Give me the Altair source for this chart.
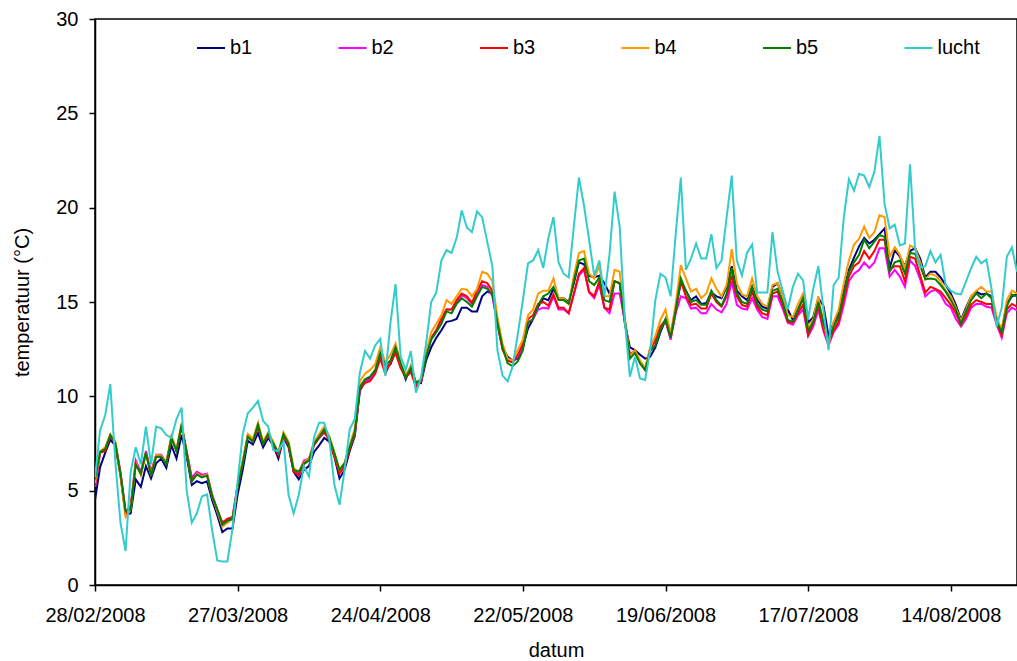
import altair as alt
import pandas as pd

# Daily mean temperatures (°C), starting 28/02/2008
b1 = [4.5, 6.25, 7.0, 7.7, 7.4, 5.8, 3.75, 3.8, 5.6, 5.2,
      6.3, 5.65, 6.45, 6.7, 6.2, 7.4, 6.7, 7.95, 6.8, 5.3,
      5.5, 5.4, 5.5, 4.5, 3.7, 2.8, 3.0, 3.0, 4.8, 6.1,
      7.65, 7.45, 8.05, 7.3, 7.8, 7.4, 6.7, 7.8, 7.3, 6.0,
      5.6, 6.1, 6.3, 7.05, 7.4, 7.8, 7.6, 6.8, 5.65, 6.1,
      7.1, 7.9, 10.3, 10.8, 11.0, 11.3, 12.1, 11.5, 11.7, 12.4,
      11.7, 10.9, 11.6, 10.75, 10.7, 11.9, 12.6, 13.1, 13.5, 13.95,
      14.0, 14.1, 14.7, 14.7, 14.5, 14.5, 15.3, 15.55, 15.45, 14.0,
      12.6, 12.1, 11.9, 12.0, 12.6, 13.6, 14.1, 14.75, 15.2, 15.1,
      15.7, 15.2, 15.2, 15.0, 16.0, 17.1, 17.0, 16.4, 16.3, 16.4,
      16.0, 15.45, 16.1, 16.0, 13.9, 12.6, 12.45, 12.2, 12.0, 12.1,
      12.6, 13.4, 14.05, 13.2, 14.7, 16.0, 15.6, 15.1, 15.3, 14.9,
      14.95, 15.5, 15.3, 15.2, 15.8, 16.9, 15.6, 15.3, 15.1, 15.8,
      15.1, 14.75, 14.65, 15.8, 16.0, 15.3, 14.6, 14.05, 14.6, 15.2,
      13.9, 14.2, 15.2, 14.8, 13.2, 13.9, 14.4, 15.6, 16.7, 17.35,
      17.95, 18.4, 18.1, 18.3, 18.6, 18.9, 16.8, 17.75, 17.4, 16.9,
      17.7, 17.85, 17.3, 16.3, 16.6, 16.6, 16.3, 15.9, 15.45, 14.85,
      14.05, 14.7, 15.3, 15.55, 15.4, 15.45, 15.3, 14.05, 13.5, 14.9,
      15.3, 15.4]

b2 = [5.2, 7.0, 7.2, 7.9, 7.5, 6.0, 3.9, 4.2, 6.6, 6.0,
      7.1, 6.0, 6.9, 6.9, 6.5, 7.8, 7.2, 8.4, 7.1, 5.7,
      6.0, 5.85, 5.9, 4.8, 4.0, 3.3, 3.5, 3.6, 5.3, 6.5,
      7.9, 7.6, 8.4, 7.5, 7.9, 7.5, 6.9, 7.9, 7.4, 6.1,
      5.9, 6.6, 6.7, 7.5, 7.8, 8.1, 7.7, 6.9, 6.0, 6.4,
      7.3, 8.0, 10.5, 10.8, 10.9, 11.3, 12.1, 11.3, 11.8, 12.4,
      11.6, 11.0, 11.4, 10.6, 10.8, 12.2, 13.1, 13.5, 14.1, 14.6,
      14.6, 15.0, 15.35, 15.2, 14.9, 15.4, 15.9, 15.8, 15.3, 13.8,
      12.5, 11.9, 11.8, 12.1, 12.6, 13.9, 14.1, 14.6, 14.7, 14.65,
      15.3, 14.6, 14.6, 14.4, 15.4, 16.4, 16.7, 15.5, 15.2, 15.9,
      14.7, 14.4, 15.45, 15.45, 14.0, 12.2, 12.4, 11.8, 11.4, 12.5,
      12.9, 13.6, 14.0, 13.0, 14.4, 15.3, 15.2, 14.65, 14.7, 14.4,
      14.4, 14.9, 14.6, 14.45, 14.9, 16.1, 14.85, 14.65, 14.6, 15.2,
      14.6, 14.2, 14.1, 15.3, 15.3, 14.65, 13.9, 13.8, 14.3, 14.6,
      13.2, 13.7, 14.6, 13.45, 12.7, 13.4, 13.8, 14.85, 16.1, 16.5,
      16.7, 17.1, 16.8, 17.1, 17.85, 17.85, 16.35, 16.7, 16.35, 15.8,
      17.2, 16.9, 16.2, 15.3, 15.55, 15.65, 15.4, 14.9, 14.7, 14.1,
      13.7, 14.1, 14.7, 14.9, 14.9, 14.75, 14.7, 13.8, 13.1, 14.4,
      14.7, 14.55]

b3 = [5.3, 7.0, 7.1, 7.9, 7.5, 5.9, 3.8, 4.1, 6.4, 5.9,
      7.0, 5.9, 6.8, 6.8, 6.4, 7.8, 7.1, 8.4, 7.0, 5.6,
      5.9, 5.75, 5.8, 4.7, 4.0, 3.3, 3.5, 3.6, 5.2, 6.5,
      7.9, 7.6, 8.4, 7.5, 7.9, 7.5, 6.9, 7.9, 7.4, 6.0,
      5.8, 6.4, 6.6, 7.4, 7.8, 8.1, 7.7, 6.8, 5.9, 6.3,
      7.2, 8.0, 10.4, 10.7, 10.8, 11.2, 12.0, 11.2, 11.8, 12.3,
      11.5, 11.0, 11.3, 10.5, 10.8, 12.2, 13.1, 13.5, 14.1, 14.6,
      14.6, 15.1, 15.45, 15.3, 14.95, 15.6, 16.1, 16.0, 15.6, 13.9,
      12.5, 11.9, 11.8, 12.2, 12.8, 14.1, 14.3, 14.9, 15.0, 14.8,
      15.4, 14.7, 14.7, 14.4, 15.45, 16.5, 16.8, 15.55, 15.3, 16.1,
      14.7, 14.6, 16.1, 16.0, 14.05, 12.2, 12.4, 11.75, 11.4, 12.55,
      13.0, 13.7, 14.05, 13.1, 14.5, 16.1, 15.3, 14.85, 14.9, 14.65,
      14.65, 15.45, 15.0, 14.75, 15.3, 16.4, 15.3, 14.85, 14.75, 15.55,
      14.75, 14.4, 14.3, 15.45, 15.55, 14.85, 13.95, 13.9, 14.4, 14.85,
      13.25, 13.9, 14.8, 13.6, 12.8, 13.5, 13.95, 15.2, 16.35, 16.9,
      17.1, 17.7, 17.3, 17.7, 18.3, 18.3, 16.7, 16.9, 16.9, 16.1,
      17.4, 17.3, 16.4, 15.5, 15.8, 15.7, 15.55, 15.2, 14.85, 14.4,
      13.8, 14.3, 14.85, 15.1, 15.0, 14.9, 14.9, 13.95, 13.25, 14.6,
      14.9, 14.75]

b4 = [5.4, 7.1, 7.3, 8.0, 7.6, 5.8, 3.6, 4.0, 6.5, 5.8,
      7.0, 5.8, 6.9, 6.85, 6.5, 7.9, 7.2, 8.6, 7.0, 5.5,
      5.9, 5.75, 5.85, 4.7, 3.9, 3.1, 3.3, 3.5, 5.3, 6.6,
      8.0, 7.75, 8.6, 7.6, 8.1, 7.6, 7.0, 8.1, 7.6, 6.2,
      6.0, 6.5, 6.7, 7.6, 8.0, 8.4, 7.9, 7.0, 6.1, 6.5,
      7.4, 8.3, 10.8, 11.2, 11.4, 11.7, 12.6, 11.8, 12.2, 12.8,
      11.75, 11.1, 11.6, 10.7, 10.9, 12.3, 13.4, 13.85, 14.3, 15.1,
      14.9, 15.3, 15.7, 15.65, 15.3, 15.7, 16.6, 16.5, 16.1, 14.2,
      12.8, 12.0, 11.9, 12.45, 13.0, 14.3, 14.6, 15.45, 15.6, 15.6,
      16.25, 15.2, 15.2, 14.9, 16.4, 17.6, 17.7, 16.5, 16.25, 16.9,
      15.3, 15.3, 16.7, 16.6, 14.2, 12.1, 12.45, 11.9, 11.5, 12.6,
      13.2, 14.05, 14.6, 13.3, 14.9, 16.95, 16.25, 15.55, 15.7, 15.2,
      15.45, 16.25, 15.7, 15.3, 15.9, 17.8, 16.0, 15.4, 15.3, 16.25,
      15.3, 14.9, 14.75, 15.9, 16.0, 15.3, 14.3, 14.2, 14.9, 15.45,
      13.6, 14.1, 15.3, 13.9, 12.8, 13.95, 14.6, 16.0, 17.2, 18.05,
      18.35, 19.0, 18.4, 18.7, 19.6, 19.5, 17.4, 17.9, 17.5, 16.8,
      18.0, 17.85, 17.1, 16.2, 16.5, 16.4, 16.1, 15.6, 15.3, 14.7,
      14.0, 14.6, 15.3, 15.6, 15.8, 15.55, 15.55, 14.2, 13.5, 15.1,
      15.6, 15.45]

b5 = [5.6, 7.05, 7.2, 7.95, 7.5, 5.9, 3.9, 4.0, 6.4, 5.9,
      7.0, 5.8, 6.8, 6.8, 6.4, 7.8, 7.1, 8.5, 7.0, 5.5,
      5.85, 5.7, 5.8, 4.7, 4.0, 3.2, 3.4, 3.5, 5.2, 6.45,
      7.86, 7.6, 8.5, 7.5, 8.0, 7.5, 7.0, 8.0, 7.5, 6.1,
      6.0, 6.45, 6.6, 7.5, 7.85, 8.25, 7.8, 7.0, 6.1, 6.45,
      7.3, 8.1, 10.5, 10.9, 11.05, 11.4, 12.3, 11.65, 11.9, 12.6,
      11.75, 11.0, 11.5, 10.7, 10.9, 12.1, 13.0, 13.4, 13.85, 14.5,
      14.4, 14.9, 15.2, 15.0, 14.75, 15.3, 15.8, 15.7, 15.45, 13.9,
      12.6, 11.75, 11.6, 11.85, 12.45, 13.9, 14.1, 14.85, 15.3, 15.45,
      15.8, 15.1, 15.1, 14.9, 16.1, 17.2, 17.3, 16.1, 15.9, 16.3,
      15.1, 15.0, 16.1, 16.0, 14.05, 12.0, 12.3, 11.75, 11.4, 12.4,
      12.7, 13.5, 14.1, 13.1, 14.6, 16.25, 15.6, 15.0, 15.1, 14.85,
      14.85, 15.6, 15.1, 14.8, 15.45, 16.8, 15.45, 15.0, 14.9, 15.8,
      14.9, 14.6, 14.5, 15.6, 15.7, 15.0, 14.05, 13.95, 14.6, 15.2,
      13.45, 13.95, 15.0, 13.9, 13.0, 13.7, 14.2, 15.45, 16.6, 17.1,
      17.5, 18.3, 17.85, 18.2, 18.55, 18.45, 16.6, 17.1, 17.2, 16.5,
      17.6, 17.55, 16.9, 16.2, 16.25, 16.2, 15.9, 15.55, 15.1, 14.6,
      13.85, 14.5, 15.1, 15.45, 15.2, 15.45, 15.2, 13.95, 13.4, 14.75,
      15.4, 15.3]

lucht = [5.7, 8.2, 9.0, 10.65, 6.5, 3.3, 1.8, 6.0, 7.3, 6.4,
         8.4, 6.4, 8.4, 8.3, 7.95, 7.8, 8.8, 9.4, 5.0, 3.3,
         3.8, 4.7, 4.8, 2.9, 1.3, 1.25, 1.25, 3.0, 5.5, 8.0,
         9.1, 9.4, 9.75, 8.7, 8.4, 7.15, 7.1, 7.6, 4.77, 3.8,
         4.77, 6.3, 5.75, 7.85, 8.6, 8.6, 7.7, 5.3, 4.25, 6.1,
         8.25, 8.8, 11.25, 12.4, 12.0, 12.7, 13.04, 11.1, 13.9, 15.95,
         12.1, 11.4, 12.4, 10.2, 11.0, 12.8, 15.0, 15.5, 17.2, 17.75,
         17.6, 18.4, 19.85, 18.95, 18.7, 19.8, 19.5, 18.2, 16.9, 12.45,
         11.1, 10.8, 11.6, 13.3, 15.1, 17.05, 17.2, 17.75, 16.8, 18.4,
         19.5, 17.1, 16.5, 16.3, 19.0, 21.6, 20.1, 18.3, 16.4, 17.2,
         15.3, 17.5, 20.85, 19.0, 14.05, 11.04, 12.1, 10.95, 10.87, 12.45,
         15.1, 16.5, 16.3, 15.3, 18.6, 21.6, 16.7, 17.3, 18.1, 17.3,
         17.3, 18.6, 16.8, 17.2, 19.5, 21.7, 17.2, 16.4, 17.6, 18.05,
         15.5, 15.5, 15.5, 18.7, 16.6, 15.6, 14.6, 15.8, 16.5, 16.15,
         14.1, 15.7, 16.9, 14.6, 12.45, 15.9, 16.3, 19.5, 21.5, 20.9,
         21.8, 21.7, 21.1, 21.9, 23.8, 20.2, 18.9, 19.1, 18.0, 18.1,
         22.3, 17.8, 16.8, 16.9, 17.7, 17.1, 17.5, 15.9, 15.6, 15.45,
         15.4, 16.1, 16.8, 17.4, 17.05, 17.25, 15.7, 13.7, 14.7, 17.4,
         17.9, 16.6]

series_names = ["b1", "b2", "b3", "b4", "b5", "lucht"]
series_colors = ["#000080", "#FF00FF", "#FF0000", "#FF9900", "#008000", "#33CCCC"]
series_values = [b1, b2, b3, b4, b5, lucht]

dates = pd.date_range("2008-02-28", periods=len(b1), freq="D")
rows = []
for name, vals in zip(series_names, series_values):
    for day, v in zip(dates, vals):
        rows.append({"datum": day, "serie": name, "temp": v})
df = pd.DataFrame(rows)

tick_days = pd.date_range("2008-02-28", "2008-08-14", freq="28D")
tick_values = [alt.DateTime(year=t.year, month=t.month, date=t.day) for t in tick_days]
x_domain = [alt.DateTime(year=2008, month=2, date=28),
            alt.DateTime(year=2008, month=8, date=27)]

FONT = "Liberation Sans"

chart = alt.Chart(df).mark_line(strokeWidth=2, clip=True).encode(
    x=alt.X("datum:T",
            scale=alt.Scale(domain=x_domain, nice=False),
            axis=alt.Axis(values=tick_values, format="%d/%m/%Y", title="datum",
                          grid=False, tickSize=6, labelPadding=14,
                          labelOverlap=False, labelFlush=False, labelBound=False,
                          titleY=65, titleBaseline="middle")),
    y=alt.Y("temp:Q",
            scale=alt.Scale(domain=[0, 30], nice=False),
            axis=alt.Axis(values=[0, 5, 10, 15, 20, 25, 30], title="temperatuur (°C)",
                          grid=False, tickSize=6, labelPadding=11,
                          labelOverlap=False, labelFlush=False,
                          titleX=-73, titleBaseline="middle")),
    color=alt.Color("serie:N",
                    scale=alt.Scale(domain=series_names, range=series_colors),
                    legend=alt.Legend(title=None, orient="none", legendX=101, legendY=14,
                                      direction="horizontal", columns=6,
                                      symbolType="stroke", symbolSize=784,
                                      symbolStrokeWidth=2, labelOffset=4,
                                      columnPadding=61.5)),
    order=alt.Order("datum:T"),
).properties(
    width=922, height=566,
    autosize=alt.AutoSizeParams(type="none"),
    padding={"left": 95, "top": 19, "right": 0, "bottom": 76},
).configure(
    font=FONT,
).configure_view(
    stroke="black", strokeWidth=1.5,
).configure_axis(
    labelFont=FONT, titleFont=FONT, labelFontSize=20, titleFontSize=20,
    labelColor="black", titleColor="black", titleFontWeight="normal",
    domainColor="black", domainWidth=1.5, tickColor="black", tickWidth=1.5,
).configure_legend(
    labelFont=FONT, labelFontSize=20, labelColor="black", gridAlign="all", padding=0,
)

chart.save("out.html", embed_options={"renderer": "svg", "actions": False})
